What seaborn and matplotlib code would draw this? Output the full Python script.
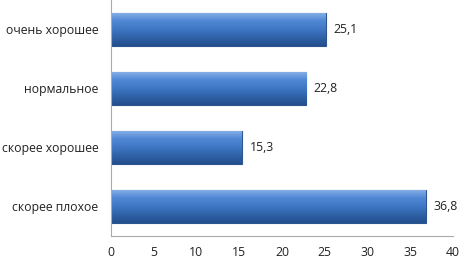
import matplotlib.pyplot as plt
import numpy as np
import pandas as pd
import seaborn as sns
from matplotlib.colors import LinearSegmentedColormap

categories = ['очень хорошее', 'нормальное', 'скорее хорошее', 'скорее плохое']
values = [25.1, 22.8, 15.3, 36.8]
value_labels = ['25,1', '22,8', '15,3', '36,8']
x_ticks = [0, 5, 10, 15, 20, 25, 30, 35, 40]

df = pd.DataFrame({'category': categories, 'value': values})

sns.set_style('white')
plt.rcParams['font.family'] = ['Open Sans', 'DejaVu Sans']

fig = plt.figure(figsize=(4.6, 2.59), dpi=100)
ax = fig.add_axes([0.241, 0.089, 0.744, 0.911])

sns.barplot(data=df, x='value', y='category', orient='h', order=categories,
            color='#3f78c6', saturation=1, width=0.56,
            edgecolor='#2a5590', linewidth=0.8, ax=ax)

# vertical gradient inside each bar (light top -> dark bottom)
grad_cmap = LinearSegmentedColormap.from_list(
    'bar', ['#8ab2e8', '#5088d6', '#3f78c6', '#2f62a8', '#244f8c'])
grad = np.linspace(0, 1, 64).reshape(-1, 1)
for bar in ax.patches:
    x0, y0 = bar.get_x(), bar.get_y()
    w, h = bar.get_width(), bar.get_height()
    im = ax.imshow(grad, cmap=grad_cmap, aspect='auto', interpolation='bilinear',
                   extent=(x0, x0 + w, y0 + h, y0), zorder=bar.get_zorder() + 0.1)
    im.set_clip_path(bar)

for bar, lab in zip(ax.patches, value_labels):
    ax.text(bar.get_width() + 0.9, bar.get_y() + bar.get_height() / 2, lab,
            va='center', ha='left', fontsize=8.8, color='#222222')

ax.set_xlim(0, 40)
ax.set_ylim(3.5, -0.5)
ax.set_xticks(x_ticks)
ax.set_xticklabels([str(t) for t in x_ticks])
ax.tick_params(axis='both', length=0, labelsize=8.8, colors='#222222')
ax.tick_params(axis='x', pad=7)
ax.tick_params(axis='y', pad=9)
ax.set_xlabel('')
ax.set_ylabel('')
for s in ['top', 'right']:
    ax.spines[s].set_visible(False)
for s in ['left', 'bottom']:
    ax.spines[s].set_color('#aaaaaa')
    ax.spines[s].set_linewidth(0.8)

fig.savefig('out.png', dpi=100)
